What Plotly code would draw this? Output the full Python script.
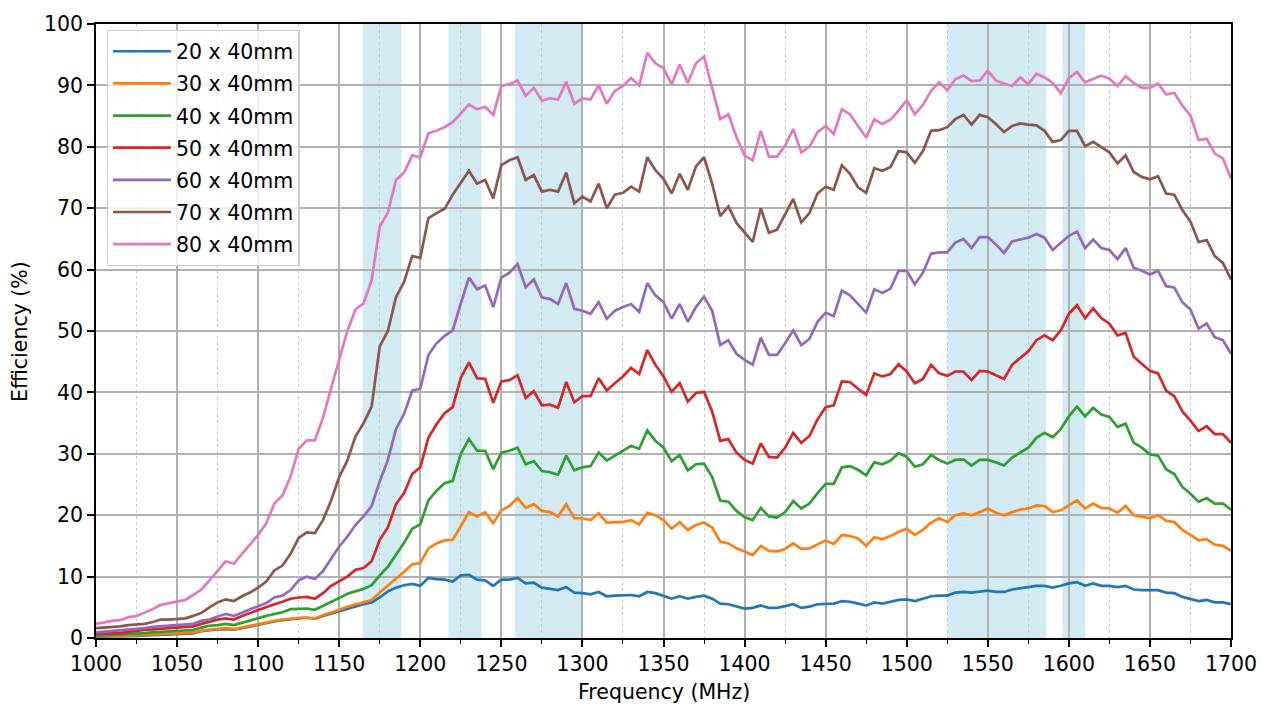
import plotly.graph_objects as go

# ---------------- data ----------------
freq_mhz = [
    1000, 1005, 1010, 1015, 1020, 1025, 1030, 1035, 1040, 1045,
    1050, 1055, 1060, 1065, 1070, 1075, 1080, 1085, 1090, 1095,
    1100, 1105, 1110, 1115, 1120, 1125, 1130, 1135, 1140, 1145,
    1150, 1155, 1160, 1165, 1170, 1175, 1180, 1185, 1190, 1195,
    1200, 1205, 1210, 1215, 1220, 1225, 1230, 1235, 1240, 1245,
    1250, 1255, 1260, 1265, 1270, 1275, 1280, 1285, 1290, 1295,
    1300, 1305, 1310, 1315, 1320, 1325, 1330, 1335, 1340, 1345,
    1350, 1355, 1360, 1365, 1370, 1375, 1380, 1385, 1390, 1395,
    1400, 1405, 1410, 1415, 1420, 1425, 1430, 1435, 1440, 1445,
    1450, 1455, 1460, 1465, 1470, 1475, 1480, 1485, 1490, 1495,
    1500, 1505, 1510, 1515, 1520, 1525, 1530, 1535, 1540, 1545,
    1550, 1555, 1560, 1565, 1570, 1575, 1580, 1585, 1590, 1595,
    1600, 1605, 1610, 1615, 1620, 1625, 1630, 1635, 1640, 1645,
    1650, 1655, 1660, 1665, 1670, 1675, 1680, 1685, 1690, 1695,
    1700,
]

eff_20x40 = [
    0.2, 0.2, 0.25, 0.25, 0.3, 0.35, 0.4, 0.45, 0.5, 0.55,
    0.65, 0.7, 0.75, 1.1, 1.3, 1.4, 1.45, 1.35, 1.6, 1.9,
    2.1, 2.4, 2.7, 2.9, 3.1, 3.2, 3.3, 3.1, 3.6, 4.0,
    4.4, 4.8, 5.2, 5.5, 5.8, 6.6, 7.6, 8.2, 8.6, 8.8,
    8.5, 9.8, 9.6, 9.5, 9.2, 10.2, 10.3, 9.5, 9.4, 8.5,
    9.5, 9.5, 9.8, 8.9, 9.0, 8.2, 8.0, 7.8, 8.3, 7.4,
    7.3, 7.1, 7.5, 6.8, 6.9, 6.9, 7.0, 6.8, 7.5, 7.3,
    6.9, 6.4, 6.8, 6.4, 6.7, 6.9, 6.4, 5.6, 5.5, 5.1,
    4.8, 4.9, 5.3, 4.9, 4.9, 5.2, 5.5, 4.9, 5.1, 5.5,
    5.6, 5.6, 6.0, 5.9, 5.6, 5.3, 5.8, 5.6, 5.9, 6.2,
    6.3, 6.0, 6.4, 6.8, 6.9, 6.9, 7.4, 7.5, 7.4, 7.6,
    7.7, 7.5, 7.5, 7.9, 8.1, 8.3, 8.5, 8.5, 8.2, 8.5,
    8.9, 9.1, 8.5, 8.9, 8.5, 8.5, 8.3, 8.5, 7.9, 7.8,
    7.8, 7.8, 7.4, 7.3, 6.7, 6.4, 6.0, 6.2, 5.8, 5.8,
    5.5,
]

eff_30x40 = [
    0.3, 0.3, 0.35, 0.35, 0.4, 0.45, 0.5, 0.55, 0.6, 0.7,
    0.8, 0.85, 0.9, 1.2, 1.4, 1.5, 1.6, 1.45, 1.7, 2.0,
    2.3, 2.5, 2.8, 3.0, 3.2, 3.3, 3.3, 3.2, 3.7, 4.1,
    4.6, 5.1, 5.5, 5.8, 6.2, 7.4, 8.5, 9.6, 10.8, 12.0,
    12.2, 14.6, 15.4, 15.9, 16.0, 18.2, 20.5, 19.8, 20.5, 18.7,
    20.8, 21.5, 22.8, 21.2, 21.8, 20.7, 20.5, 19.8, 21.8, 19.5,
    19.5, 19.2, 20.3, 18.8, 18.8, 18.9, 19.2, 18.5, 20.4, 20.0,
    19.2, 17.8, 18.9, 17.6, 18.4, 18.8, 18.0, 15.7, 15.4, 14.6,
    14.1, 13.5, 15.0, 14.2, 14.1, 14.5, 15.4, 14.5, 14.6, 15.3,
    15.9, 15.3, 16.8, 16.6, 16.2, 15.0, 16.4, 16.1, 16.6, 17.3,
    17.8, 16.8, 17.6, 18.8, 19.5, 18.9, 20.0, 20.3, 20.0, 20.5,
    21.1, 20.4, 20.0, 20.5, 20.9, 21.1, 21.6, 21.5, 20.5, 20.8,
    21.6, 22.4, 21.1, 21.9, 21.2, 21.1, 20.4, 21.5, 20.0, 19.7,
    19.5, 20.0, 19.1, 18.9, 17.6, 16.8, 15.9, 16.1, 15.2, 15.0,
    14.2,
]

eff_40x40 = [
    0.4, 0.45, 0.5, 0.55, 0.6, 0.7, 0.8, 0.9, 1.0, 1.1,
    1.2, 1.25, 1.3, 1.7, 2.0, 2.1, 2.3, 2.1, 2.5, 2.9,
    3.2, 3.6, 3.9, 4.2, 4.7, 4.8, 4.8, 4.6, 5.2, 5.8,
    6.5, 7.2, 7.6, 8.0, 8.6, 10.2, 11.6, 13.5, 15.5, 17.8,
    18.5, 22.4, 24.0, 25.2, 25.6, 30.0, 32.4, 30.5, 30.5, 27.5,
    30.2, 30.5, 31.0, 28.3, 28.8, 27.2, 27.0, 26.6, 29.7, 27.3,
    27.8, 28.0, 30.2, 28.9, 29.7, 30.5, 31.3, 30.8, 33.8, 32.1,
    31.0, 28.8, 29.8, 27.3, 28.3, 28.4, 26.2, 22.4, 22.2, 20.7,
    19.7, 19.2, 21.2, 19.8, 19.6, 20.5, 22.3, 21.1, 21.9, 23.6,
    25.1, 25.1, 27.8, 28.0, 27.4, 26.5, 28.6, 28.3, 28.9, 30.1,
    29.5, 27.9, 28.3, 29.8, 29.0, 28.4, 29.0, 29.1, 28.1, 29.0,
    29.0, 28.6, 28.1, 29.4, 30.2, 31.0, 32.6, 33.4, 32.7, 34.0,
    36.1, 37.7, 36.1, 37.5, 36.4, 36.0, 34.4, 34.9, 31.8, 31.0,
    29.9, 29.7, 27.5, 26.7, 24.6, 23.5, 22.2, 22.8, 21.9, 21.9,
    20.9,
]

eff_50x40 = [
    0.65, 0.7, 0.8, 0.85, 1.0, 1.2, 1.3, 1.4, 1.5, 1.6,
    1.7, 1.8, 1.9, 2.3, 2.7, 3.0, 3.2, 3.0, 3.6, 4.1,
    4.6, 5.1, 5.5, 5.9, 6.4, 6.6, 6.7, 6.4, 7.3, 8.5,
    9.2, 10.0, 11.1, 11.4, 12.5, 16.0, 18.0, 21.8, 23.6, 26.7,
    27.8, 32.6, 34.8, 36.6, 37.6, 42.4, 44.9, 42.3, 42.2, 38.3,
    41.8, 42.0, 42.8, 39.1, 40.2, 37.9, 38.0, 37.5, 41.7, 38.4,
    39.4, 39.4, 42.3, 40.3, 41.5, 42.6, 44.0, 43.0, 46.9, 44.5,
    42.6, 40.1, 41.5, 38.5, 39.9, 40.1, 36.9, 32.1, 32.4, 30.2,
    29.0, 28.4, 31.7, 29.5, 29.4, 31.0, 33.4, 31.8, 32.9, 35.6,
    37.6, 37.9, 41.8, 41.7, 40.6, 39.6, 43.1, 42.6, 43.0, 44.6,
    43.4, 41.5, 42.2, 44.5, 43.1, 42.7, 43.4, 43.4, 42.0, 43.5,
    43.4, 42.8, 42.2, 44.5, 45.6, 46.7, 48.5, 49.3, 48.5, 50.1,
    52.8, 54.2, 52.1, 53.7, 52.1, 51.2, 49.3, 49.7, 45.8, 44.7,
    43.5, 43.1, 40.3, 39.4, 36.9, 35.4, 33.7, 34.5, 33.2, 33.2,
    31.8,
]

eff_60x40 = [
    0.9, 1.0, 1.1, 1.2, 1.3, 1.5, 1.6, 1.8, 1.9, 1.9,
    2.0, 2.1, 2.3, 2.8, 3.0, 3.5, 3.9, 3.6, 4.1, 4.6,
    5.1, 5.7, 6.6, 6.9, 7.8, 9.4, 10.0, 9.6, 10.9, 12.8,
    14.9, 16.5, 18.4, 19.8, 21.5, 25.5, 29.0, 34.0, 36.5, 40.3,
    40.6, 46.1, 48.0, 49.2, 50.1, 54.5, 58.7, 56.8, 57.4, 53.9,
    58.7, 59.5, 60.9, 57.1, 58.4, 55.5, 55.2, 54.4, 57.8, 53.6,
    53.3, 52.8, 54.7, 52.0, 53.3, 53.9, 54.4, 53.1, 57.8, 55.8,
    54.7, 52.0, 54.4, 51.5, 53.9, 55.6, 53.3, 47.7, 48.5, 46.3,
    45.3, 44.5, 48.9, 46.1, 46.1, 48.0, 50.1, 47.7, 48.7, 51.5,
    53.0, 52.4, 56.6, 55.8, 54.4, 53.0, 56.8, 56.2, 56.9, 59.8,
    59.8, 57.6, 59.5, 62.6, 62.8, 62.8, 64.4, 65.0, 63.5, 65.3,
    65.3, 64.1, 62.7, 64.6, 64.9, 65.2, 65.8, 65.2, 63.2, 64.4,
    65.5, 66.2, 63.5, 64.9, 63.5, 63.2, 61.7, 63.5, 60.3, 59.8,
    59.2, 59.8, 57.3, 57.1, 54.7, 53.5, 50.4, 51.2, 49.0, 48.5,
    46.3,
]

eff_70x40 = [
    1.6, 1.7, 1.7, 1.9, 2.1, 2.2, 2.3, 2.6, 3.0, 3.0,
    3.1, 3.2, 3.6, 4.1, 5.0, 5.8, 6.3, 6.0, 6.8, 7.4,
    8.2, 9.2, 11.0, 11.8, 13.7, 16.3, 17.2, 17.1, 19.2, 22.4,
    26.2, 28.9, 32.8, 35.0, 37.7, 47.5, 50.0, 55.5, 58.0, 62.2,
    61.9, 68.4, 69.2, 69.9, 72.2, 74.1, 76.1, 74.0, 74.6, 71.6,
    77.0, 77.8, 78.3, 74.6, 75.4, 72.7, 73.0, 72.7, 75.8, 70.8,
    71.9, 71.1, 74.0, 70.0, 72.2, 72.5, 73.5, 72.7, 78.3, 76.2,
    74.8, 72.4, 75.6, 73.0, 76.8, 78.3, 74.0, 68.7, 70.3, 67.6,
    66.0, 64.5, 70.0, 66.0, 66.5, 68.9, 71.5, 67.7, 69.2, 72.4,
    73.5, 73.0, 77.0, 75.6, 73.4, 72.5, 76.5, 76.1, 76.7, 79.3,
    79.1, 77.4, 79.3, 82.6, 82.7, 83.2, 84.5, 85.2, 83.6, 85.2,
    84.8, 83.7, 82.4, 83.4, 83.8, 83.6, 83.5, 82.6, 80.8, 81.1,
    82.6, 82.6, 80.1, 80.8, 79.9, 79.1, 77.3, 78.6, 75.9, 75.1,
    74.7, 75.2, 72.4, 72.2, 69.7, 67.8, 64.5, 64.8, 62.2, 61.1,
    58.4,
]

eff_80x40 = [
    2.3, 2.6, 2.8, 2.9, 3.4, 3.6, 4.1, 4.7, 5.4, 5.7,
    5.9, 6.2, 7.0, 7.9, 9.4, 11.0, 12.5, 12.1, 13.7, 15.2,
    16.8, 18.7, 21.9, 23.2, 26.3, 30.8, 32.2, 32.2, 35.9, 40.7,
    45.5, 50.0, 53.5, 54.5, 58.3, 67.0, 69.3, 74.6, 75.8, 78.6,
    78.3, 82.2, 82.6, 83.2, 84.0, 85.4, 86.9, 86.1, 86.5, 85.2,
    89.9, 90.2, 90.8, 88.3, 89.6, 87.5, 87.9, 87.7, 90.6, 87.0,
    87.9, 87.7, 90.0, 87.0, 89.1, 89.9, 91.2, 90.0, 95.3, 93.6,
    92.8, 90.2, 93.4, 90.4, 93.6, 94.7, 89.5, 84.5, 85.3, 81.6,
    78.6, 77.8, 82.6, 78.4, 78.4, 80.2, 82.9, 79.1, 80.0, 82.4,
    83.4, 82.1, 86.1, 85.3, 83.4, 81.5, 84.5, 83.7, 84.4, 85.9,
    87.6, 85.3, 86.8, 89.1, 90.5, 89.2, 91.0, 91.6, 90.7, 90.8,
    92.4, 90.8, 90.3, 89.9, 91.3, 90.2, 91.9, 91.3, 90.4, 88.7,
    91.2, 92.2, 90.5, 91.0, 91.6, 91.1, 89.9, 91.5, 90.4, 89.6,
    89.6, 90.3, 88.5, 88.8, 86.7, 85.1, 81.1, 81.3, 78.9, 78.1,
    74.8,
]

series_names = ["20 x 40mm", "30 x 40mm", "40 x 40mm", "50 x 40mm",
                "60 x 40mm", "70 x 40mm", "80 x 40mm"]
series_values = [eff_20x40, eff_30x40, eff_40x40, eff_50x40,
                 eff_60x40, eff_70x40, eff_80x40]
series_colors = ["#1f77b4", "#ff7f0e", "#2ca02c", "#d62728",
                 "#9467bd", "#8c564b", "#e377c2"]

# shaded GNSS bands (MHz)
band_starts = [1164.45, 1217.37, 1258.3, 1525.0, 1596.0]
band_ends = [1188.45, 1237.83, 1300.0, 1586.0, 1610.0]

x_ticks = [1000, 1050, 1100, 1150, 1200, 1250, 1300, 1350,
           1400, 1450, 1500, 1550, 1600, 1650, 1700]
y_ticks = [0, 10, 20, 30, 40, 50, 60, 70, 80, 90, 100]

# ---------------- figure ----------------
FONT = "DejaVu Sans"
FS = 20.5

fig = go.Figure()

for name, vals, col in zip(series_names, series_values, series_colors):
    fig.add_trace(go.Scatter(
        x=freq_mhz, y=vals, mode="lines", name=name,
        legendgroup=name,
        line=dict(color=col, width=2.7),
    ))

for a, b in zip(band_starts, band_ends):
    fig.add_vrect(x0=a, x1=b, fillcolor="rgba(173,216,230,0.55)",
                  line_width=0, layer="below")

axis_common = dict(
    showline=True, linecolor="black", linewidth=1.6, mirror=True,
    ticks="outside", ticklen=7, tickwidth=1.6, tickcolor="black",
    showgrid=True, gridcolor="#b0b0b0", gridwidth=1.6,
    zeroline=False,
    tickfont=dict(family=FONT, size=FS, color="black"),
)

fig.update_xaxes(
    range=[1000, 1700], tickvals=x_ticks,
    minor=dict(dtick=25, tick0=1000, ticks="outside", ticklen=4,
               tickwidth=1.2, tickcolor="black", showgrid=True,
               gridcolor="#c8c8c8", griddash="dot", gridwidth=1),
    **axis_common,
)
fig.update_yaxes(range=[0, 100], tickvals=y_ticks, **axis_common)

fig.add_annotation(text="Frequency (MHz)", xref="paper", yref="paper",
                   x=0.5, y=-0.088, xanchor="center", yanchor="middle",
                   showarrow=False, font=dict(family=FONT, size=FS, color="black"))
fig.add_annotation(text="Efficiency (%)", xref="paper", yref="paper",
                   x=-0.067, y=0.5, xanchor="center", yanchor="middle",
                   textangle=-90, showarrow=False,
                   font=dict(family=FONT, size=FS, color="black"))

fig.update_layout(
    width=1269, height=708,
    margin=dict(l=96, r=38, t=19, b=70),
    paper_bgcolor="white", plot_bgcolor="white",
    font=dict(family=FONT, size=FS, color="black"),
    showlegend=True,
    legend=dict(
        x=0.0094, y=0.99, xanchor="left", yanchor="top",
        bgcolor="rgba(255,255,255,0.8)", bordercolor="#cccccc", borderwidth=1.3,
        font=dict(family=FONT, size=FS, color="black"),
        traceorder="grouped", tracegroupgap=2.5, itemwidth=58,
    ),
)

fig.write_html("out.html", config={"displayModeBar": False},
               post_script="document.body.style.margin='0';")
